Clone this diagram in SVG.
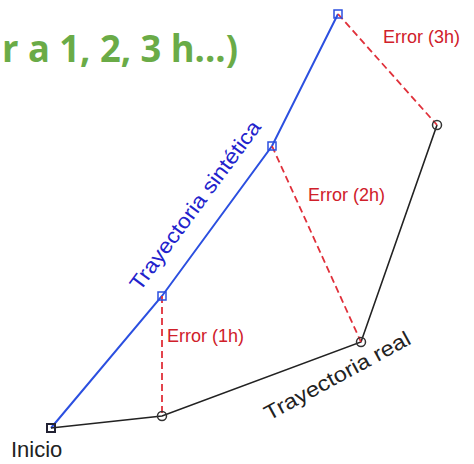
<svg xmlns="http://www.w3.org/2000/svg" width="474" height="464" viewBox="0 0 474 464">
<style>
.blue{stroke:#2b4fe0;stroke-width:2;fill:none}
.real{stroke:#222;stroke-width:1.6;fill:none}
.err{stroke:#e0303a;stroke-width:1.8;stroke-dasharray:7,4;fill:none}
.sq{fill:none;stroke:#2b4fe0;stroke-width:1.5}
.sq0{fill:none;stroke:#223;stroke-width:2}
.circ{fill:none;stroke:#333;stroke-width:1.5}
.lbl{font-family:"Liberation Sans",Arial,sans-serif;font-size:18px;fill:#d0202a}
.title{font-family:"Open Sans","Liberation Sans",sans-serif;font-weight:bold;font-size:38px;fill:#6aab47}
</style>
<rect width="474" height="464" fill="#fff"/>
<text class="title" x="2" y="62" textLength="236" lengthAdjust="spacingAndGlyphs">r a 1, 2, 3 h...)</text>
<g id="connectors">
<polyline class="blue" points="51,428 162,296 272,146 338,14"/>
<polyline class="real" points="51,428 162,416 361,342 437,125"/>
<line class="err" x1="162" y1="296" x2="162" y2="416"/>
<line class="err" x1="272" y1="146" x2="361" y2="342"/>
<line class="err" x1="338" y1="14" x2="437" y2="125"/>
</g>
<g id="inicio"><rect class="sq0" x="47" y="424" width="8" height="8"/>
<text x="11" y="457" font-family="Liberation Sans,Arial,sans-serif" font-size="22" fill="#222">Inicio</text></g>
<g id="s1"><rect class="sq" x="158" y="292" width="8" height="8"/></g>
<g id="s2"><rect class="sq" x="268" y="142" width="8" height="8"/></g>
<g id="s3"><rect class="sq" x="334" y="10" width="8" height="8"/></g>
<g id="r1"><circle class="circ" cx="162" cy="416" r="4.5"/></g>
<g id="r2"><circle class="circ" cx="361" cy="342" r="4.5"/></g>
<g id="r3"><circle class="circ" cx="437" cy="125" r="4.5"/></g>
<g id="e1"><text class="lbl" x="167" y="342">Error (1h)</text></g>
<g id="e2"><text class="lbl" x="308" y="201">Error (2h)</text></g>
<g id="e3"><text class="lbl" x="383" y="43">Error (3h)</text></g>
<g id="lsint"><text transform="translate(140,292) rotate(-53.5)" font-family="Liberation Sans,Arial,sans-serif" font-size="21" fill="#2222cc" textLength="205" lengthAdjust="spacingAndGlyphs">Trayectoria sintética</text></g>
<g id="lreal"><text transform="translate(269,421) rotate(-28.5)" font-family="Liberation Sans,Arial,sans-serif" font-size="21" fill="#222" textLength="163" lengthAdjust="spacingAndGlyphs">Trayectoria real</text></g>
</svg>
